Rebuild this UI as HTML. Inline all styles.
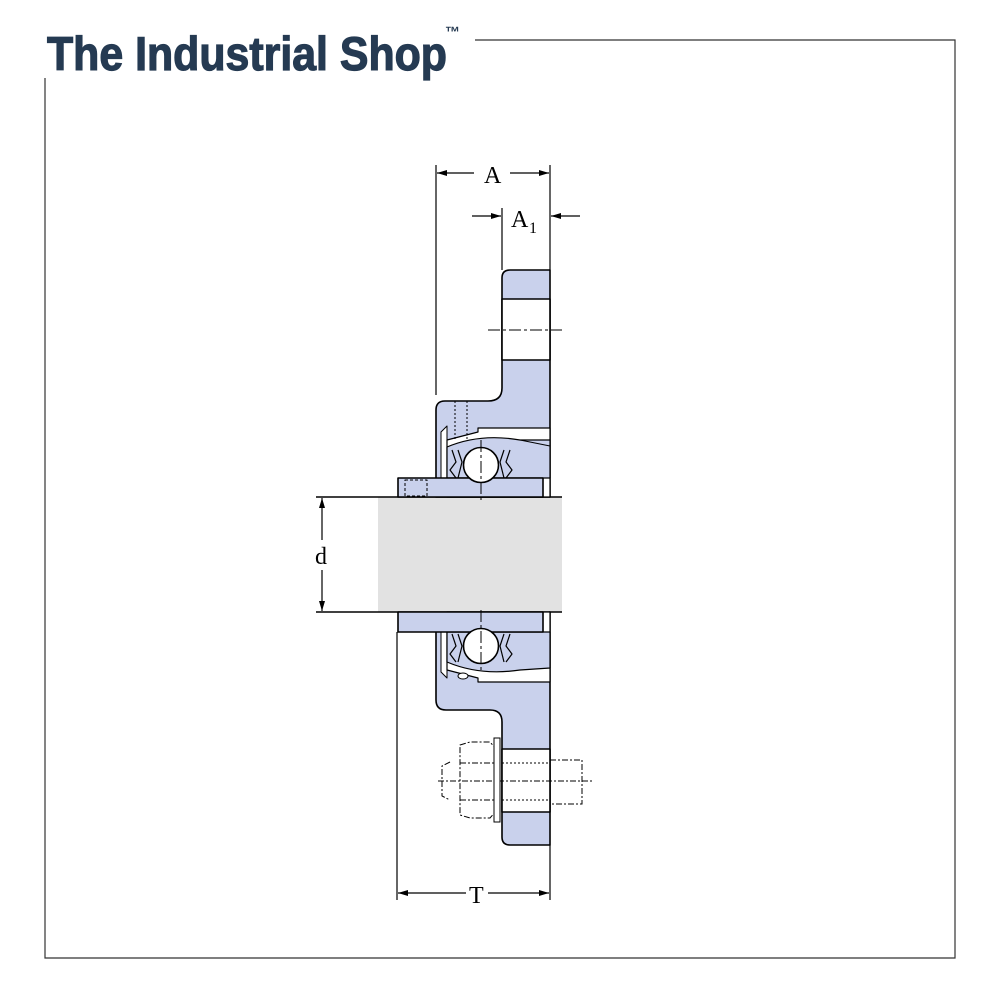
<!DOCTYPE html>
<html><head><meta charset="utf-8"><style>
html,body{margin:0;padding:0;background:#fff;width:1000px;height:1000px;overflow:hidden}
svg{display:block}
</style></head><body>
<svg width="1000" height="1000" viewBox="0 0 1000 1000" xmlns="http://www.w3.org/2000/svg">
<defs>
<marker id="ar" viewBox="0 0 10 6" refX="10" refY="3" markerWidth="14" markerHeight="6" markerUnits="userSpaceOnUse" orient="auto"><path d="M0,0 L10,3 L0,6 z" fill="#000"/></marker>
</defs>
<g stroke="#333" stroke-width="1.2" fill="none">
<path d="M475,40 H955 V958 H45 V78"/>
</g>
<text x="47" y="70" font-family="Liberation Sans, sans-serif" font-weight="bold" font-size="47" fill="#253a52" stroke="#253a52" stroke-width="1.2" textLength="400" lengthAdjust="spacingAndGlyphs">The Industrial Shop</text>
<text x="445" y="37" font-family="Liberation Sans, sans-serif" font-weight="bold" font-size="15" fill="#253a52">™</text>

<rect x="378" y="497" width="184" height="115" fill="#e2e2e2"/>
<line x1="316" y1="497" x2="562" y2="497" stroke="#000" stroke-width="1.5"/>
<line x1="316" y1="612" x2="562" y2="612" stroke="#000" stroke-width="1.5"/>

<g stroke="#000" stroke-width="1.6" stroke-linejoin="round">
<path d="M436,497 V410 Q436,401 445,401 H488 Q502,401 502,388 V278 Q502,270 510,270 H550 V497 Z" fill="#c9d1ec"/>
<rect x="502" y="299" width="48" height="61" fill="#fff"/>
<path d="M441,497 V432 L447,426 V497 Z" fill="#fff" stroke-width="1"/>
<path d="M447,497 V440 L478,432 V428 H550 V497 Z" fill="#fff" stroke-width="1.2"/>
<path d="M447,478 V447 Q480,433 520,440 L550,440 V478 Z" fill="#c9d1ec" stroke-width="1.2"/>
<path d="M520,440 L550,446" fill="none" stroke-width="1"/>
<rect x="398" y="478" width="145" height="19" fill="#c9d1ec"/>
<circle cx="481" cy="465" r="17.5" fill="#fff"/>
<path d="M452,450 L456,462 L450,470 L456,478 M458,450 L462,462 L458,478 M510,450 L506,462 L512,470 L506,478 M504,450 L500,462 L504,478" fill="none" stroke-width="1.2"/>
<rect x="405" y="480" width="22" height="16" fill="#c9d1ec" stroke-width="1" stroke-dasharray="3,2"/>
<path d="M455,401 V440 M467,401 V440" fill="none" stroke-width="1" stroke-dasharray="2,2"/>

<path d="M436,632 V700 Q436,710 446,710 H490 Q502,710 502,722 V837 Q502,845 510,845 H550 V612 Z" fill="#c9d1ec"/>
<rect x="502" y="749" width="48" height="63" fill="#fff"/>
<path d="M441,612 V672 L447,678 V612 Z" fill="#fff" stroke-width="1"/>
<path d="M447,612 V670 L478,678 V682 H550 V612 Z" fill="#fff" stroke-width="1.2"/>
<path d="M447,632 V662 Q480,676 520,670 L550,668 V632 Z" fill="#c9d1ec" stroke-width="1.2"/>
<rect x="398" y="612" width="145" height="20" fill="#c9d1ec"/>
<circle cx="481" cy="646" r="17.5" fill="#fff"/>
<ellipse cx="463" cy="676" rx="5" ry="3" fill="#fff" stroke-width="1"/>
<path d="M452,634 L456,646 L450,654 L456,662 M458,634 L462,646 L458,662 M510,634 L506,646 L512,654 L506,662 M504,634 L500,646 L504,662" fill="none" stroke-width="1.2"/>
</g>

<g stroke="#000" stroke-width="1" fill="none" stroke-dasharray="6,2,2,2">
<path d="M460,745 L470,742 H490 L497,750 V810 L490,818 H470 L460,815 Z"/>
<path d="M460,763 H495 M460,800 H495"/>
<path d="M450,762 L442,766 V796 L450,800"/>
<path d="M550,760 H582 V804 H550"/>
<path d="M438,781 H592"/>
<path d="M502,763 H550 M502,800 H550" stroke-dasharray="2,2"/>
</g>
<rect x="494" y="738" width="6" height="84" fill="#fff" stroke="#000" stroke-width="1"/>

<g stroke="#000" stroke-width="1" stroke-dasharray="12,3,3,3" fill="none">
<path d="M488,330 H562"/>
<path d="M481,440 V500 M481,610 V672"/>
</g>

<g stroke="#000" stroke-width="1.2" fill="none">
<line x1="436" y1="165" x2="436" y2="395"/>
<line x1="550" y1="165" x2="550" y2="270"/>
<line x1="502" y1="208" x2="502" y2="270"/>
<line x1="474" y1="173" x2="437" y2="173" marker-end="url(#ar)"/>
<line x1="510" y1="173" x2="549" y2="173" marker-end="url(#ar)"/>
<line x1="472" y1="216" x2="501" y2="216" marker-end="url(#ar)"/>
<line x1="580" y1="216" x2="551" y2="216" marker-end="url(#ar)"/>
<line x1="322" y1="540" x2="322" y2="498" marker-end="url(#ar)"/>
<line x1="322" y1="570" x2="322" y2="611" marker-end="url(#ar)"/>
<line x1="397" y1="632" x2="397" y2="900"/>
<line x1="550" y1="845" x2="550" y2="900"/>
<line x1="466" y1="893" x2="398" y2="893" marker-end="url(#ar)"/>
<line x1="488" y1="893" x2="549" y2="893" marker-end="url(#ar)"/>
</g>
<g font-family="Liberation Serif, serif" font-size="24" fill="#000">
<text x="484" y="183">A</text>
<text x="511" y="227">A</text><text x="529" y="233" font-size="16">1</text>
<text x="315" y="564">d</text>
<text x="469" y="903">T</text>
</g>
</svg>
</body></html>
